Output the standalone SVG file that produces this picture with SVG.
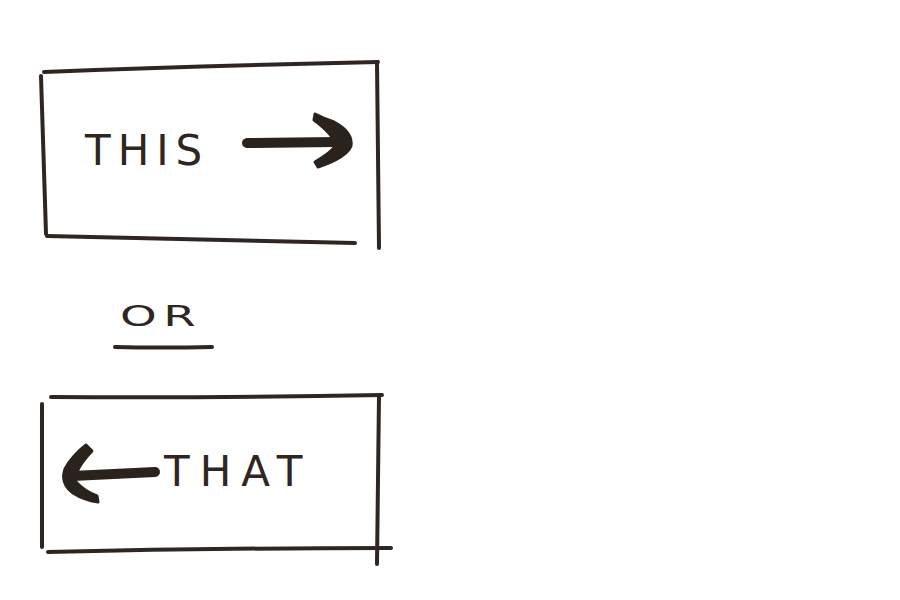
<svg xmlns="http://www.w3.org/2000/svg" width="900" height="600" viewBox="0 0 900 600">
<style>
.ln{fill:none;stroke:#2f2621;stroke-width:4;stroke-linecap:round;stroke-linejoin:round}
.ar{fill:none;stroke:#2a221d;stroke-linecap:round;stroke-linejoin:round}
.hd{fill:#2a221d;stroke:#2a221d;stroke-width:3;stroke-linejoin:round}
.tx{font-family:"DejaVu Sans","Liberation Sans",sans-serif;fill:#2f2621;font-weight:normal}
</style>
<rect width="900" height="600" fill="#ffffff"/>
<g id="box-this">
<path class="ln" d="M44,72 Q200,66 378,62"/>
<path class="ln" d="M41,76 Q44,160 46,234"/>
<path class="ln" d="M377,62 Q378,160 379,248"/>
<path class="ln" d="M47,236 Q200,239 355,243"/>
<text class="tx" x="85" y="165" font-size="42" letter-spacing="7">THIS</text>
</g>
<g id="connectors">
<g id="arrow-right">
<path class="ar" stroke-width="10" d="M247,143 L335,142"/>
<path class="hd" d="M315,114 Q325,119 334,122 Q353,132 351,146 Q346,158 318,167 L315,162 Q332,152 336,145 Q333,134 314,120 Z"/>
</g>
<g id="arrow-left">
<path class="ar" stroke-width="10" d="M155,472 L72,476"/>
<path class="hd" d="M86,445 Q72,456 65,469 Q60,483 73,493 Q84,500 98,502 L97,496 Q84,491 76,482 Q73,471 92,451 Z"/>
</g>
</g>
<g id="or-label">
<text class="tx" x="120" y="326" font-size="29" letter-spacing="4" textLength="82" lengthAdjust="spacingAndGlyphs">OR</text>
<path class="ln" d="M115,347 Q160,348 212,347"/>
</g>
<g id="box-that">
<path class="ln" d="M51,397 Q220,398 382,395"/>
<path class="ln" d="M42,404 Q42,480 42,547"/>
<path class="ln" d="M379,396 Q378,480 377,564"/>
<path class="ln" d="M48,552 Q220,548 391,548"/>
<text class="tx" x="164" y="486" font-size="42" letter-spacing="10">THAT</text>
</g>
</svg>
